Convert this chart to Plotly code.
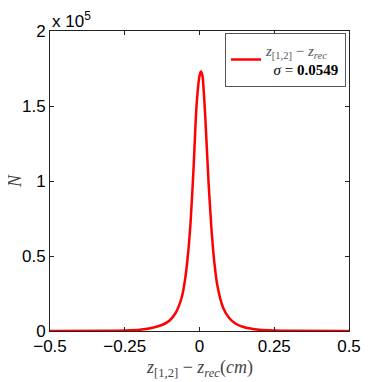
import plotly.graph_objects as go

# residual distribution
dz = [-0.5, -0.3, -0.25, -0.2, -0.15, -0.12, -0.1, -0.08, -0.06, -0.05, -0.04, -0.03,
      -0.02, -0.01, 0.0, 0.005, 0.01, 0.02, 0.03, 0.04, 0.05, 0.06, 0.08, 0.1,
      0.12, 0.15, 0.2, 0.25, 0.3, 0.5]
counts = [0, 100, 300, 800, 2500, 4500, 7000, 12000, 22000, 32000, 48000, 72000,
          108000, 150000, 170000, 173000, 170000, 140000, 100000, 68000, 45000, 30000, 15000, 8500,
          5000, 2500, 800, 300, 100, 0]

xticks = [-0.5, -0.25, 0, 0.25, 0.5]
xticklabels = ["\u22120.5", "\u22120.25", "0", "0.25", "0.5"]
yticks = [0, 50000, 100000, 150000, 200000]
yticklabels = ["0", "0.5", "1", "1.5", "2"]

serif = "Liberation Serif"
sans = "Liberation Sans"

fig = go.Figure()
fig.add_trace(go.Scatter(
    x=dz, y=counts, mode="lines",
    line=dict(color="#ff0000", width=2.5, shape="spline", smoothing=0.6),
    name=("<span style='color:#555'><i>z</i><sub>[1,2]</sub> \u2212 <i>z</i><sub><i>rec</i></sub></span>"
          "<br>  <i>\u03c3</i> = <b>0.0549</b>"),
    showlegend=True,
))

axis_common = dict(
    showline=True, linecolor="#222", linewidth=1, mirror="ticks",
    ticks="inside", ticklen=4, tickcolor="#222",
    showgrid=False, zeroline=False, automargin=False,
    tickfont=dict(family=sans, size=17, color="black"),
)

fig.update_xaxes(range=[-0.5, 0.5], tickvals=xticks, ticktext=xticklabels, **axis_common)
fig.update_yaxes(range=[0, 200000], tickvals=yticks, ticktext=yticklabels, **axis_common)

fig.add_annotation(text="x 10<sup>5</sup>", xref="paper", yref="paper", x=0, y=1.0,
                   xanchor="left", yanchor="bottom", showarrow=False,
                   font=dict(family=sans, size=17, color="black"), xshift=0, yshift=-2)
fig.add_annotation(text="<i>z</i><sub>[1,2]</sub> \u2212 <i>z</i><sub><i>rec</i></sub>(<i>cm</i>)",
                   xref="paper", yref="paper", x=0.5, y=0, yshift=-37,
                   xanchor="center", yanchor="middle", showarrow=False,
                   font=dict(family=serif, size=18, color="#444"))
fig.add_annotation(text="<i>N</i>", xref="paper", yref="paper", x=0, y=0.5, xshift=-35,
                   xanchor="center", yanchor="middle", showarrow=False, textangle=-90,
                   font=dict(family=serif, size=18, color="#444"))

# page body adds an 8px margin, so the figure is shrunk by that much
fig.update_layout(
    width=378, height=374,
    margin=dict(l=42, r=37, t=23, b=51),
    paper_bgcolor="white", plot_bgcolor="white",
    legend=dict(x=0.99, y=0.995, xanchor="right", yanchor="top",
                bgcolor="white", bordercolor="#555", borderwidth=1,
                font=dict(family=serif, size=15, color="black"),
                itemwidth=30, tracegroupgap=0),
)

fig.write_html("out.html")
